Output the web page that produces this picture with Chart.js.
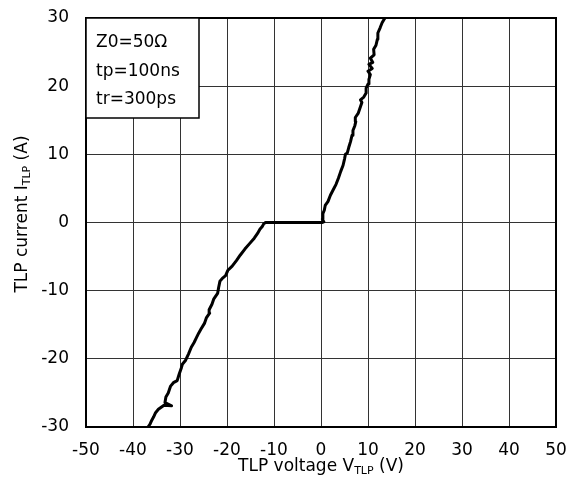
<!DOCTYPE html>
<html>
<head>
<meta charset="utf-8">
<title>TLP I-V</title>
<script src="https://cdn.jsdelivr.net/npm/chart.js@4/dist/chart.umd.min.js"></script>
<style>
    body { margin: 0; background: #fff; }
    #wrap { width: 569px; height: 483px; }
</style>
</head>
<body>
<div id="wrap"><canvas id="tlp-chart" width="569" height="483"></canvas></div>
<script>
// 曲线数据 (从图上读出来的近似值)
const tlpVoltage = [
    -36.8, -36.4, -36.0, -35.6, -35.2, -34.6, -33.4, -31.8, -33.2, -33.0,
    -32.5, -32.0, -31.4, -30.6, -30.2, -29.7, -29.5, -28.8, -28.2, -27.6,
    -27.0, -26.5, -26.0, -25.5, -24.8, -24.4, -23.7, -23.8, -23.2, -22.8,
    -22.0, -21.8, -21.5, -21.0, -20.3, -19.8, -18.9, -18.0, -17.2, -16.2,
    -15.2, -14.2, -13.5, -13.0, -12.5, -12.2, -11.8,
    0.2, 0.6, 0.3, 0.4, 0.7, 0.9, 1.5, 2.0, 2.6, 3.2,
    3.7, 4.2, 4.7, 5.0, 5.2, 5.6, 5.9, 6.3, 6.6, 6.8,
    7.2, 7.4, 7.3, 7.9, 8.3, 8.7, 8.4, 9.1, 9.6, 9.6,
    10.0, 10.2, 10.5, 10.0, 10.9, 10.2, 11.0, 10.5, 11.3, 11.2,
    11.7, 12.0, 12.1, 12.6, 13.0, 13.6
];
const tlpCurrent = [
    -30.0, -29.6, -29.0, -28.5, -27.9, -27.4, -26.8, -26.9, -26.4, -25.6,
    -25.0, -24.0, -23.5, -23.2, -22.3, -21.3, -20.8, -20.2, -19.3, -18.3,
    -17.6, -16.9, -16.2, -15.6, -14.8, -14.0, -13.3, -12.8, -12.0, -11.2,
    -10.4, -9.6, -8.6, -8.2, -7.8, -7.0, -6.4, -5.6, -4.8, -3.9,
    -3.1, -2.3, -1.6, -1.0, -0.6, -0.2, 0.0,
    0.0, 0.1, 0.5, 1.3, 1.8, 2.5, 3.1, 4.0, 4.8, 5.6,
    6.5, 7.5, 8.4, 9.3, 10.0, 10.2, 11.0, 11.9, 12.8, 13.5,
    14.2, 14.8, 15.4, 16.0, 16.8, 17.6, 18.0, 18.4, 19.0, 19.7,
    20.3, 21.0, 21.7, 22.2, 22.6, 23.2, 23.5, 24.1, 24.6, 25.4,
    26.0, 26.9, 27.8, 28.6, 29.3, 30.0
];

// 坐标轴范围和刻度
const xTicks = [-50, -40, -30, -20, -10, 0, 10, 20, 30, 40, 50];
const yTicks = [-30, -20, -10, 0, 10, 20, 30];

// 测试条件
const conditionLines = ['Z0=50Ω', 'tp=100ns', 'tr=300ps'];

const FONT = '"DejaVu Sans", Verdana, sans-serif';

// 画带下标的文字
function drawSubText(ctx, parts, cx, baseline) {
    let total = 0;
    parts.forEach(p => {
        ctx.font = (p.sub ? 11 : 17) + 'px ' + FONT;
        total += ctx.measureText(p.text).width;
    });
    let x = cx - total / 2;
    parts.forEach(p => {
        ctx.font = (p.sub ? 11 : 17) + 'px ' + FONT;
        ctx.fillText(p.text, x, baseline + (p.sub ? 3 : 0));
        x += ctx.measureText(p.text).width;
    });
}

// 外框、轴标题、条件框
const framePlugin = {
    id: 'frame',
    afterDraw(chart) {
        const ctx = chart.ctx;
        const a = chart.chartArea;
        ctx.save();
        ctx.strokeStyle = '#000';
        ctx.lineWidth = 2;
        ctx.strokeRect(a.left, a.top, a.right - a.left, a.bottom - a.top);

        // 条件框
        ctx.fillStyle = '#fff';
        ctx.fillRect(a.left, a.top, 113, 100);
        ctx.lineWidth = 1.5;
        ctx.strokeRect(a.left, a.top, 113, 100);
        ctx.fillStyle = '#000';
        ctx.font = '17px ' + FONT;
        ctx.textAlign = 'left';
        ctx.textBaseline = 'alphabetic';
        conditionLines.forEach((t, i) => {
            ctx.fillText(t, a.left + 10, a.top + 29 + i * 28.5);
        });

        // x轴标题
        drawSubText(ctx, [
            { text: 'TLP voltage V' },
            { text: 'TLP', sub: true },
            { text: ' (V)' }
        ], (a.left + a.right) / 2, 471);

        // y轴标题
        ctx.translate(27, 214);
        ctx.rotate(-Math.PI / 2);
        drawSubText(ctx, [
            { text: 'TLP current I' },
            { text: 'TLP', sub: true },
            { text: ' (A)' }
        ], 0, 0);
        ctx.restore();
    }
};

function renderTlpChart() {
    const points = tlpVoltage.map((v, i) => ({ x: v, y: tlpCurrent[i] }));
    const ctx = document.getElementById('tlp-chart').getContext('2d');

    new Chart(ctx, {
        type: 'scatter',
        data: {
            datasets: [{
                data: points,
                showLine: true,
                borderColor: '#000',
                borderWidth: 3,
                borderJoinStyle: 'round',
                pointRadius: 0,
                fill: false,
                tension: 0
            }]
        },
        options: {
            responsive: false,
            animation: false,
            devicePixelRatio: 1,
            layout: {
                padding: { left: 0, right: 13, top: 18, bottom: 0 }
            },
            scales: {
                x: {
                    type: 'linear',
                    min: xTicks[0],
                    max: xTicks[xTicks.length - 1],
                    afterBuildTicks: s => { s.ticks = xTicks.map(v => ({ value: v })); },
                    afterFit: s => {
                        s.height = 56;
                        s.paddingLeft = 0;
                        s.paddingRight = 0;
                    },
                    grid: { color: '#333', lineWidth: 1, drawTicks: false },
                    border: { display: false },
                    ticks: {
                        color: '#000',
                        padding: 13,
                        maxRotation: 0,
                        font: { family: FONT, size: 17 }
                    }
                },
                y: {
                    type: 'linear',
                    min: yTicks[0],
                    max: yTicks[yTicks.length - 1],
                    afterBuildTicks: s => { s.ticks = yTicks.map(v => ({ value: v })); },
                    afterFit: s => {
                        s.width = 86;
                        s.paddingTop = 0;
                        s.paddingBottom = 0;
                    },
                    grid: { color: '#333', lineWidth: 1, drawTicks: false },
                    border: { display: false },
                    ticks: {
                        color: '#000',
                        padding: 17,
                        font: { family: FONT, size: 17 }
                    }
                }
            },
            plugins: {
                legend: { display: false },
                tooltip: { enabled: false }
            }
        },
        plugins: [framePlugin]
    });
}

renderTlpChart();
</script>
</body>
</html>
